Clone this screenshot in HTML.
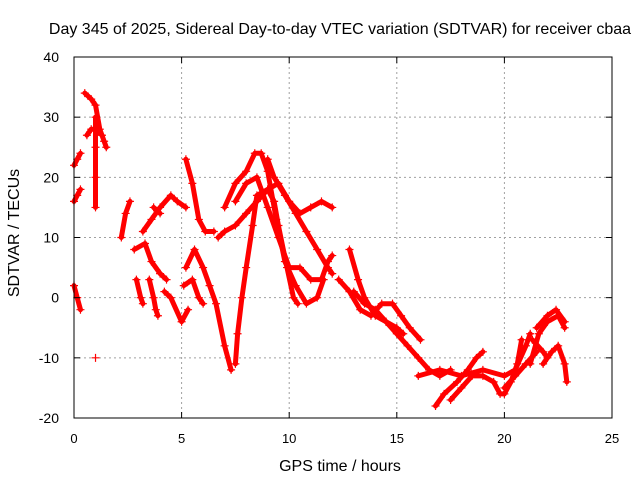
<!DOCTYPE html>
<html><head><meta charset="utf-8"><style>
body{margin:0;background:#fff}
svg{display:block;font-family:"Liberation Sans",sans-serif}
</style></head><body>
<svg id="chart" width="640" height="480">
<rect width="640" height="480" fill="#fff"/>
<text x="340" y="34" font-size="16" text-anchor="middle">Day 345 of 2025, Sidereal Day-to-day VTEC variation (SDTVAR) for receiver cbaa</text>
<g id="grid"></g>
<g id="data"></g>
<rect x="74" y="57" width="538" height="361" fill="none" stroke="#000" stroke-width="1"/>
<g id="ticks"></g>
<text x="340" y="471" font-size="16" text-anchor="middle">GPS time / hours</text>
<text transform="translate(19,233) rotate(-90)" font-size="16" text-anchor="middle">SDTVAR / TECUs</text>
</svg>
<script>
const xTicks=[0,5,10,15,20,25];
const yTicks=[-20,-10,0,10,20,30,40];
const s1=[[0,16],[0.15,17],[0.3,18]];
const s2=[[0,22],[0.15,23],[0.3,24]];
const s3=[[0,2],[0.15,0],[0.3,-2]];
const s4=[[0.5,34],[0.8,33],[1,32],[1.2,28],[1.4,26],[1.5,25]];
const s5=[[0.6,27],[0.8,28],[1,28],[1.3,27]];
const s6=[[1,30],[1,25],[1,20],[1,15]];
const s7=[[1,-10]];
const s8=[[2.2,10],[2.4,14],[2.6,16]];
const s9=[[2.9,3],[3.1,0],[3.2,-1]];
const s10=[[2.8,8],[3.3,9],[3.6,6],[4,4],[4.3,3]];
const s11=[[3.5,3],[3.7,0],[3.8,-2],[3.9,-3]];
const s12=[[3.7,15],[4,14]];
const s13=[[3.2,11],[3.6,13],[4,15],[4.5,17],[4.8,16],[5.2,15]];
const s14=[[4.2,1],[4.5,0],[5,-4],[5.3,-2]];
const s15=[[5.2,23],[5.5,19],[5.8,13],[6.1,11],[6.5,11]];
const s16=[[5.2,5],[5.6,8],[6,5],[6.3,2],[6.6,-1],[7,-8],[7.3,-12]];
const s17=[[5.1,2],[5.5,3],[5.8,0],[6,-1]];
const s18=[[7.5,-11],[7.6,-6],[7.8,0],[8,5],[8.3,12],[8.5,17],[9,18],[9.3,16],[9.5,12],[9.9,5],[10.2,0],[10.4,-1]];
const s19=[[6.7,10],[7,11],[7.5,12],[8,14],[8.5,16],[9,18],[9.5,19],[10,16],[10.5,14],[11,15],[11.5,16],[12,15]];
const s20=[[7,15],[7.5,19],[8,21],[8.4,24],[8.7,24],[9,21],[9.4,13],[9.8,6],[10.3,2],[10.8,-1],[11.3,0],[11.6,3]];
const s21=[[7.5,16],[8,19],[8.5,20],[9,15],[9.5,10],[10,5],[10.5,5],[11,3],[11.5,3],[11.8,6],[12,7]];
const s22=[[9,23],[9.3,20],[9.8,17],[10.3,14],[10.8,11],[11.3,8],[11.8,5],[12,4]];
const s23=[[12.8,8],[13.2,3],[13.5,0],[14,-3],[14.5,-4],[15,-5],[15.3,-6]];
const s24=[[12.3,3],[12.8,1],[13.3,-2],[13.8,-3],[14.3,-1],[14.8,-1],[15.2,-3],[15.6,-5],[16.1,-7]];
const s25=[[13,1],[13.5,-1],[14,-2],[14.5,-4],[15,-6],[15.5,-8],[16,-10],[16.5,-12],[17,-13],[17.5,-12]];
const s26=[[16.8,-18],[17.2,-16],[17.8,-14],[18.3,-12],[18.7,-10],[19,-9]];
const s27=[[17.5,-17],[18,-15],[18.5,-13],[19,-13],[19.5,-14],[19.8,-16],[20,-16],[20.3,-14],[20.6,-11],[20.8,-7]];
const s28=[[16,-13],[17,-12],[18,-13],[19,-12],[20,-13],[20.5,-12],[21,-8],[21.2,-6]];
const s29=[[20,-15],[20.5,-13],[21,-11],[21.5,-9]];
const s30=[[21.2,-11],[21.6,-6],[22,-4],[22.5,-3],[22.8,-5]];
const s31=[[21.5,-5],[22,-3],[22.4,-2],[22.8,-4]];
const s32=[[21.8,-11],[22.2,-9],[22.5,-8],[22.8,-11],[22.9,-14]];
const s33=[[21.3,-7],[21.8,-9],[22,-10]];
const series=[s1,s2,s3,s4,s5,s6,s7,s8,s9,s10,s11,s12,s13,s14,s15,s16,s17,s18,s19,s20,s21,s22,s23,s24,s25,s26,s27,s28,s29,s30,s31,s32,s33];

const NS='http://www.w3.org/2000/svg';
const X0=74,X1=612,Y0=418,Y1=57;
function sx(v){return X0+(v-0)/(25-0)*(X1-X0);}
function sy(v){return Y0-(v+20)/(60)*(Y0-Y1);}
function mk(t,a,p){const e=document.createElementNS(NS,t);for(const k in a)e.setAttribute(k,a[k]);p.appendChild(e);return e;}
const grid=document.getElementById('grid'),ticks=document.getElementById('ticks'),data=document.getElementById('data');
xTicks.forEach(t=>{
  const x=sx(t);
  if(t>0&&t<25){const g=mk('line',{x1:x,x2:x,y1:Y1,y2:Y0,stroke:'#a0a0a0','stroke-dasharray':'2,3'},grid);
  
  }
  mk('line',{x1:x,x2:x,y1:Y0,y2:Y0-6,stroke:'#000'},ticks);
  mk('line',{x1:x,x2:x,y1:Y1,y2:Y1+6,stroke:'#000'},ticks);
  const l=mk('text',{x:x,y:443,'font-size':13,'text-anchor':'middle'},ticks);l.textContent=t;
  
  
});
yTicks.forEach(t=>{
  const y=sy(t);
  if(t>-20&&t<40){const g=mk('line',{x1:X0,x2:X1,y1:y,y2:y,stroke:'#a0a0a0','stroke-dasharray':'2,3'},grid);
  
  }
  mk('line',{x1:X0,x2:X0+6,y1:y,y2:y,stroke:'#000'},ticks);
  mk('line',{x1:X1,x2:X1-6,y1:y,y2:y,stroke:'#000'},ticks);
  const l=mk('text',{x:X0-15,y:y+5,'font-size':14,'text-anchor':'end'},ticks);l.textContent=t;
  
  
});
series.forEach(s=>{
  const d=s.map((p,i)=>(i?'L':'M')+sx(p[0]).toFixed(1)+' '+sy(p[1]).toFixed(1)).join('');
  const path=mk('path',{d:d,fill:'none',stroke:'#f00','stroke-width':5,'stroke-linejoin':'round','stroke-linecap':'round'},data);
  
  
  s.forEach(p=>{
    const x=sx(p[0]),y=sy(p[1]);
    const m=mk('path',{d:`M${x-4} ${y}H${x+4}M${x} ${y-4}V${y+4}`,stroke:'#f00','stroke-width':1.2},data);
    
    
  });
});
</script>
</body></html>
